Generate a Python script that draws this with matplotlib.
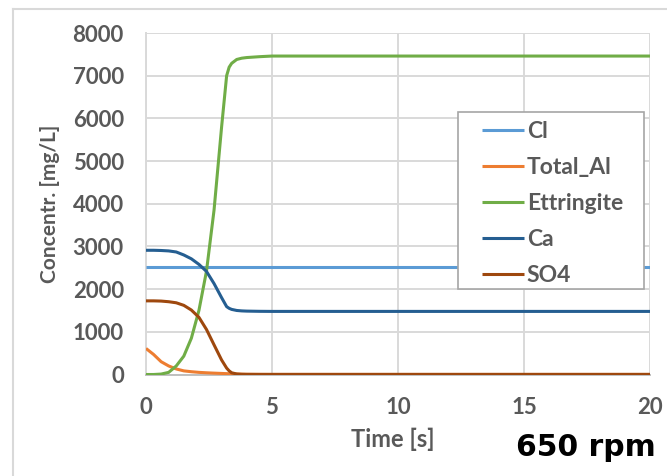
import matplotlib
matplotlib.use("Agg")
import matplotlib.pyplot as plt
from matplotlib.lines import Line2D
from matplotlib.patches import Rectangle

# ---- data ----
time_s = [0, 0.3, 0.6, 0.9, 1.2, 1.5, 1.8, 2.1, 2.4, 2.7, 3.0, 3.2, 3.3, 3.4, 3.6,
          3.8, 4.0, 4.5, 5, 6, 8, 10, 12, 14, 16, 18, 20]
cl = [2530] * len(time_s)
total_al = [610, 470, 300, 200, 130, 85, 65, 50, 40, 32, 25, 20, 18, 15, 10,
            7, 5, 3, 2, 2, 2, 2, 2, 2, 2, 2, 2]
ettringite = [0, 0, 10, 50, 200, 430, 850, 1500, 2420, 3850, 5800, 7000, 7200, 7290, 7380,
              7410, 7425, 7445, 7460, 7460, 7460, 7460, 7460, 7460, 7460, 7460, 7460]
ca = [2910, 2910, 2905, 2895, 2870, 2800, 2710, 2580, 2415, 2130, 1800, 1590, 1550, 1525, 1500,
      1490, 1485, 1480, 1478, 1478, 1478, 1478, 1478, 1478, 1478, 1478, 1478]
so4 = [1725, 1725, 1720, 1705, 1680, 1620, 1510, 1340, 1055, 695, 340, 150, 85, 40, 12,
       5, 3, 2, 2, 2, 2, 2, 2, 2, 2, 2, 2]

series_names = ["Cl", "Total_Al", "Ettringite", "Ca", "SO4"]
series_values = [cl, total_al, ettringite, ca, so4]
series_colors = ["#5B9BD5", "#ED7D31", "#70AD47", "#255E91", "#9E480E"]

x_ticks = [0, 5, 10, 15, 20]
y_ticks = [0, 1000, 2000, 3000, 4000, 5000, 6000, 7000, 8000]

W, H = 667, 476
fig = plt.figure(figsize=(W / 100, H / 100), dpi=100)
ax = fig.add_axes([146 / W, 1 - 374.5 / H, (650 - 146) / W, (374.5 - 33) / H])

for name, vals, col in zip(series_names, series_values, series_colors):
    ax.plot(time_s, vals, color=col, lw=2.2, label=name, solid_capstyle="butt", zorder=3)

ax.set_xlim(0, 20)
ax.set_ylim(0, 8000)
ax.set_xticks(x_ticks)
ax.set_yticks(y_ticks)
ax.grid(True, color="#D9D9D9", lw=1.4, zorder=0)
ax.set_axisbelow(True)
for s in ["top", "right"]:
    ax.spines[s].set_visible(False)
ax.spines["left"].set_color("#D9D9D9")
ax.spines["left"].set_linewidth(1.4)
ax.spines["bottom"].set_color("#BFBFBF")
ax.spines["bottom"].set_linewidth(1.4)

ax.tick_params(length=0, colors="#595959", pad=16)
for lab in ax.get_xticklabels() + ax.get_yticklabels():
    lab.set_fontfamily("Lato")
    lab.set_fontweight("bold")
    lab.set_fontsize(16)
    lab.set_color("#595959")

ax.set_ylabel("Concentr. [mg/L]", fontfamily="Lato", fontweight="bold", fontsize=15,
              color="#595959", labelpad=9)
fig.text(393 / W, 1 - 439 / H, "Time [s]", fontfamily="Lato", fontweight="bold",
         fontsize=17, color="#595959", ha="center", va="center")
fig.text(586 / W, 1 - 448 / H, "650 rpm", fontfamily="DejaVu Sans", fontweight="bold",
         fontsize=21.5, color="black", ha="center", va="center")

# legend frame drawn as a rectangle, entries placed inside it
frame = Rectangle((458 / W, 1 - 289 / H), (644 - 458) / W, (289 - 112) / H,
                  transform=fig.transFigure, facecolor="white",
                  edgecolor="#A6A6A6", lw=1.2, zorder=4, clip_on=False)
ax.add_artist(frame)
leg = ax.legend(loc="upper left", bbox_to_anchor=(482 / W, 1 - 121 / H),
                bbox_transform=fig.transFigure, borderaxespad=0, frameon=False,
                handlelength=1.85, handletextpad=0.1, labelspacing=0.66, borderpad=0,
                prop=dict(family="Lato", weight="bold", size=16.5))
for t in leg.get_texts():
    t.set_color("#595959")
leg.set_zorder(6)

# chart-area frame lines
fig.add_artist(Line2D([13 / W, 13 / W], [0, 1 - 9 / H], transform=fig.transFigure,
                      color="#D9D9D9", lw=1.5))
fig.add_artist(Line2D([13 / W, 1], [1 - 9 / H, 1 - 9 / H], transform=fig.transFigure,
                      color="#D9D9D9", lw=1.5))

fig.savefig("out.png", dpi=100)
